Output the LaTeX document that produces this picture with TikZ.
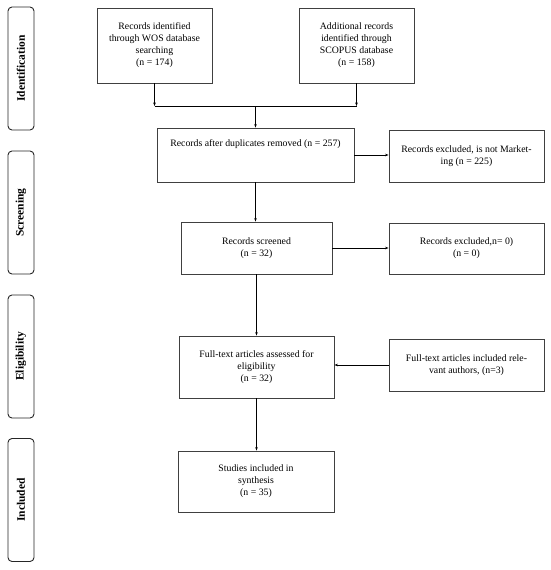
\documentclass[tikz,border=0pt]{standalone}
\usepackage{fontspec}
\setmainfont{Liberation Serif}
\usetikzlibrary{arrows.meta}
\begin{document}
\begin{tikzpicture}[x=1pt,y=-1pt,
  box/.style={draw=black!75,line width=0.9pt,align=center,inner sep=0pt,font=\fontsize{9.8}{12}\selectfont},
  phase/.style={draw=black!85,line width=0.9pt,rounded corners=4pt,minimum width=26pt,minimum height=123pt,inner sep=0pt},
  phasetext/.style={rotate=90,font=\fontsize{11.5}{13}\selectfont\bfseries},
  conn/.style={draw=black,line width=0.6pt},
  arr/.style={conn,-{Stealth[length=3.5pt,width=2.6pt]}}]
\useasboundingbox (0,0) rectangle (550,570);
% phase labels
\node[phase] (pid) at (21,68.5) {};
\node[phasetext] (tid) at (pid.center) {Identification};
\node[phase] (psc) at (21,212.5) {};
\node[phasetext] (tsc) at (psc.center) {Screening};
\node[phase] (pel) at (21,356.5) {};
\node[phasetext] (tel) at (pel.center) {Eligibility};
\node[phase] (pin) at (21,500) {};
\node[phasetext] (tin) at (pin.center) {Included};
% boxes
\node[box,minimum width=115pt,minimum height=75pt] (wos) at (154.5,45.5) {\raisebox{2pt}{\begin{tabular}{@{}c@{}}Records identified\\ through WOS database\\ searching\\ (n = 174)\end{tabular}}};
\node[box,minimum width=115pt,minimum height=75pt] (sco) at (356.5,45.5) {\raisebox{2pt}{\begin{tabular}{@{}c@{}}Additional records\\ identified through\\ SCOPUS database\\ (n = 158)\end{tabular}}};
\node[box,minimum width=197pt,minimum height=54pt] (dup) at (255.5,155) {};
\node[box,draw=none,anchor=north] (tdup) at (255.5,139) {Records after duplicates removed (n = 257)};
\node[box,minimum width=155pt,minimum height=52pt] (ex1) at (466.5,156) {\raisebox{4pt}{\begin{tabular}{@{}c@{}}Records excluded, is not Market-\\ ing (n = 225)\end{tabular}}};
\node[box,minimum width=151pt,minimum height=52pt] (scr) at (256.5,248) {\raisebox{4pt}{\begin{tabular}{@{}c@{}}Records screened\\ (n = 32)\end{tabular}}};
\node[box,minimum width=155pt,minimum height=51pt] (ex2) at (466.5,248.5) {\raisebox{4pt}{\begin{tabular}{@{}c@{}}Records excluded,n= 0)\\ (n = 0)\end{tabular}}};
\node[box,minimum width=155pt,minimum height=62pt] (ful) at (256.5,367) {\raisebox{4pt}{\begin{tabular}{@{}c@{}}Full-text articles assessed for\\ eligibility\\ (n = 32)\end{tabular}}};
\node[box,minimum width=155pt,minimum height=52pt] (inc) at (466.5,365) {\raisebox{4pt}{\begin{tabular}{@{}c@{}}Full-text articles included rele-\\ vant authors, (n=3)\end{tabular}}};
\node[box,minimum width=156pt,minimum height=61pt] (stu) at (256,481.5) {\raisebox{3pt}{\begin{tabular}{@{}c@{}}Studies included in\\ synthesis\\ (n = 35)\end{tabular}}};
% junction
\coordinate (j1) at (wos.south |- 0,106);
\coordinate (j2) at (sco.south |- 0,106);
\coordinate (jm) at (dup.north |- 0,106);
\draw[arr] (wos.south) -- (j1);
\draw[arr] (sco.south) -- (j2);
\draw[conn] (j1) -- (j2);
\draw[arr] (jm) -- (dup.north);
\draw[arr] (dup.east) -- (dup.east -| ex1.west);
\draw[arr] (dup.south) -- (dup.south |- scr.north);
\draw[arr] (scr.east) -- (scr.east -| ex2.west);
\draw[arr] (scr.south) -- (scr.south |- ful.north);
\draw[arr] (inc.west) -- (inc.west -| ful.east);
\draw[arr] (ful.south) -- (ful.south |- stu.north);
\end{tikzpicture}
\end{document}
